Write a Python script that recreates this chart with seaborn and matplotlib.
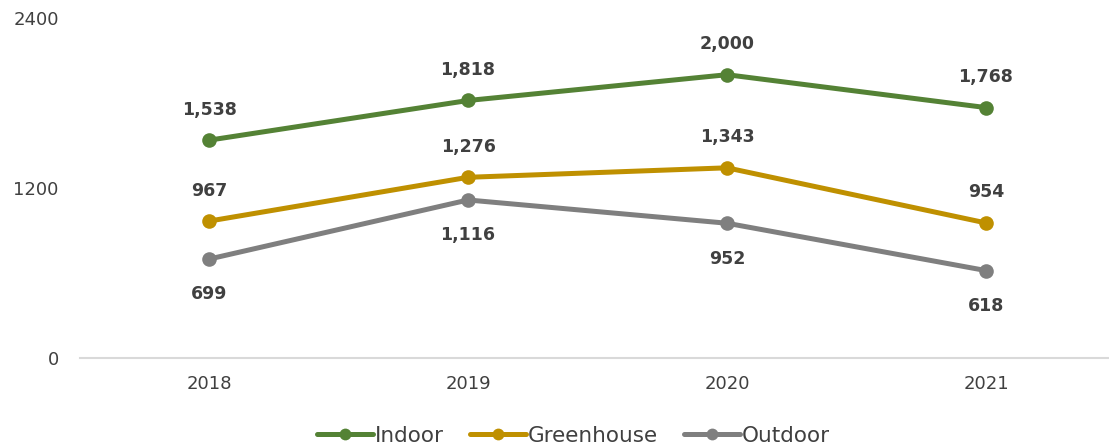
import matplotlib
matplotlib.use("Agg")
import matplotlib.pyplot as plt
import seaborn as sns
import pandas as pd

years = ["2018", "2019", "2020", "2021"]
indoor = [1538, 1818, 2000, 1768]
greenhouse = [967, 1276, 1343, 954]
outdoor = [699, 1116, 952, 618]

series_names = ["Indoor", "Greenhouse", "Outdoor"]
series_values = [indoor, greenhouse, outdoor]
colors = ["#548235", "#BF9000", "#7F7F7F"]
label_offsets = [22, 22, -25.5]  # points above (+) or below (-) each marker

rows = []
for name, vals in zip(series_names, series_values):
    for i, (yr, v) in enumerate(zip(years, vals)):
        rows.append({"pos": i, "year": yr, "series": name, "value": v})
df = pd.DataFrame(rows)

sns.set_theme(style="white")
plt.rcParams["font.family"] = ["DejaVu Sans"]
text_color = "#404040"

fig = plt.figure(figsize=(11.09, 4.46), dpi=100)
ax = fig.add_axes([0.0717, 0.197, 0.9283, 0.7626])

sns.lineplot(data=df, x="pos", y="value", hue="series", hue_order=series_names,
             palette=colors, marker="o", markersize=10.5, markeredgewidth=0,
             linewidth=3.6, ax=ax, legend=True)

for name, vals, off in zip(series_names, series_values, label_offsets):
    for i, v in enumerate(vals):
        ax.annotate(f"{v:,}", (i, v), xytext=(0, off), textcoords="offset points",
                    ha="center", va="center", fontsize=12.5, fontweight="bold",
                    color=text_color)

ax.set_xlim(-0.5, 3.475)
ax.set_ylim(0, 2400)
ax.set_yticks([0, 1200, 2400])
ax.set_xticks(range(len(years)))
ax.set_xticklabels(years)
ax.tick_params(axis="both", colors=text_color, labelsize=13, length=0)
ax.tick_params(axis="y", pad=15)
ax.tick_params(axis="x", pad=12)
ax.set_xlabel("")
ax.set_ylabel("")
for s in ["top", "right", "left"]:
    ax.spines[s].set_visible(False)
ax.spines["bottom"].set_color("#D9D9D9")
ax.spines["bottom"].set_linewidth(1.5)
ax.grid(False)

handles, labels = ax.get_legend_handles_labels()
for h in handles:
    h.set_markersize(8.5)
ax.get_legend().remove()
fig.legend(handles, labels, loc="lower center", bbox_to_anchor=(0.517, -0.043),
           ncol=3, frameon=False, fontsize=15.5, labelcolor=text_color,
           handlelength=2.6, handletextpad=0.1, columnspacing=1.2)

fig.savefig("out.png", dpi=100)
